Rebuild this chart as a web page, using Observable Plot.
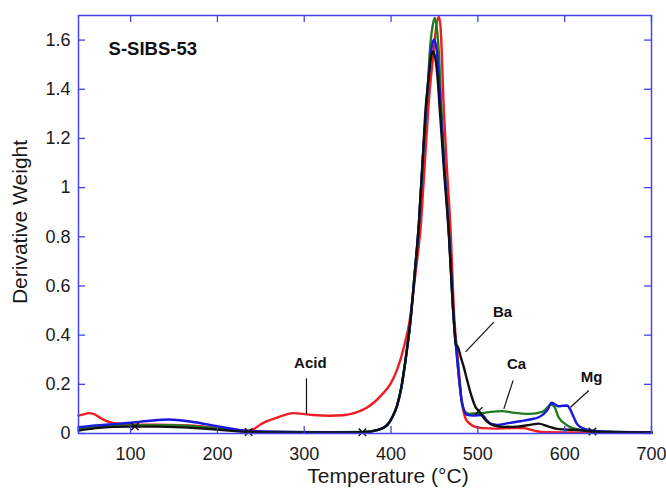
<!DOCTYPE html>
<html><head><meta charset="utf-8">
<script src="https://cdn.jsdelivr.net/npm/d3@7"></script>
<script src="https://cdn.jsdelivr.net/npm/@observablehq/plot@0.6"></script>
<style>body{margin:0;background:#fff;}</style>
</head><body><div id="chart"></div>
<script>
// ---- data (temperature °C, derivative weight) ----
const acid = [[40,0.073],[46,0.078],[52,0.083],[58,0.079],[66,0.062],[76,0.046],[90,0.039],[110,0.036],[146,0.035],[180,0.030],[205,0.020],[222,0.011],[232,0.009],[242,0.018],[250,0.038],[265,0.060],[278,0.076],[288,0.083],[298,0.080],[310,0.075],[330,0.072],[345,0.074],[361,0.087],[372,0.105],[380,0.125],[390,0.16],[399,0.2],[407,0.26],[414.7,0.35],[421.5,0.46],[426.5,0.6],[430.5,0.72],[434,0.833],[438,1.05],[442.8,1.315],[446,1.45],[448.5,1.53],[452,1.654],[455,1.695],[457,1.654],[460.8,1.315],[464,1.1],[468.5,0.833],[473,0.46],[476.5,0.32],[479,0.22],[481,0.14],[483.5,0.09],[486,0.06],[490,0.042],[496,0.028],[505,0.022],[520,0.02],[540,0.022],[553,0.022],[560,0.016],[568,0.009],[580,0.005],[620,0.003],[700,0.003]];
const ca = [[40,0.019],[60,0.028],[80,0.031],[100,0.033],[146,0.034],[180,0.027],[200,0.02],[236,0.01],[280,0.006],[330,0.005],[367,0.006],[385,0.015],[395,0.033],[402,0.07],[407,0.114],[412,0.19],[416.6,0.297],[422.4,0.46],[427.5,0.66],[432,0.85],[436,1.09],[440.8,1.315],[445.4,1.587],[448,1.66],[450.5,1.69],[453,1.64],[455,1.55],[458,1.315],[462,1.06],[466.5,0.833],[472.3,0.46],[476,0.31],[479,0.2],[481.5,0.13],[484,0.095],[486.5,0.085],[490,0.08],[497,0.082],[505,0.083],[515,0.088],[528,0.091],[540,0.085],[560,0.08],[574,0.088],[580,0.105],[584,0.118],[588,0.11],[593,0.066],[603,0.033],[618,0.015],[640,0.008],[700,0.004]];
const mg = [[40,0.026],[60,0.033],[80,0.038],[100,0.044],[120,0.051],[144,0.057],[170,0.048],[200,0.03],[230,0.012],[260,0.007],[300,0.005],[367,0.005],[385,0.015],[395,0.033],[402,0.07],[407,0.114],[412,0.19],[416.6,0.297],[422.4,0.46],[427.5,0.66],[432,0.85],[436,1.09],[440.5,1.33],[444,1.48],[447,1.575],[449.7,1.603],[452.5,1.56],[455,1.45],[457,1.33],[461,1.1],[466,0.85],[472.3,0.46],[476,0.31],[479,0.2],[481.5,0.13],[484,0.095],[487,0.077],[495,0.073],[505,0.075],[510,0.055],[514.5,0.04],[522,0.035],[535,0.042],[549,0.05],[560,0.057],[570,0.066],[576,0.08],[580,0.095],[584.8,0.125],[589,0.118],[593,0.111],[598,0.113],[603,0.114],[606,0.1],[610.5,0.066],[614,0.04],[618,0.026],[630,0.012],[650,0.007],[700,0.005]];
const ba = [[40,0.012],[60,0.022],[80,0.027],[105,0.028],[130,0.028],[160,0.025],[200,0.016],[236,0.006],[280,0.004],[330,0.004],[367,0.005],[385,0.015],[395.5,0.033],[402,0.07],[407,0.114],[412,0.19],[416.6,0.297],[422.4,0.46],[427.5,0.66],[432,0.85],[436,1.08],[439.7,1.315],[443.5,1.451],[446,1.53],[448.2,1.555],[450,1.54],[451.4,1.519],[453.5,1.45],[456.2,1.315],[461,1.07],[466,0.84],[472.3,0.46],[474.5,0.365],[477,0.352],[480,0.315],[483.8,0.27],[487.7,0.216],[492,0.16],[497,0.11],[501,0.092],[510,0.05],[518,0.033],[530,0.027],[545,0.028],[560,0.035],[570,0.04],[580,0.03],[591,0.019],[618,0.013],[632,0.008],[660,0.005],[700,0.004]];
const baMarkerT = [105, 236, 367, 501, 632];
const baMarkerV = [0.028, 0.006, 0.005, 0.092, 0.008];

const xTicks = [100, 200, 300, 400, 500, 600, 700];
const yTicks = [0, 0.2, 0.4, 0.6, 0.8, 1, 1.2, 1.4, 1.6];

const annoText = ["Acid", "Ba", "Ca", "Mg"];
const annoX = [307, 528.4, 544.5, 630.9];
const annoY = [0.286, 0.494, 0.281, 0.229];
const leadX1 = [302.6, 518.4, 540.6, 627.8];
const leadY1 = [0.224, 0.453, 0.216, 0.175];
const leadX2 = [302.6, 485.8, 529.9, 606.7];
const leadY2 = [0.081, 0.332, 0.1, 0.107];

// ---- layout ----
const W = 666, H = 489, ML = 78, MR = 15, MT = 15, MB = 56;
const plotW = W - ML - MR, plotH = H - MT - MB;
const frameColor = "#4444ea";
const tickLen = 7;

const series = [
  {pts: acid, color: "#ee1c24"},
  {pts: ca, color: "#1e7b1e"},
  {pts: mg, color: "#1818e0"},
  {pts: ba, color: "#111111"}
];
const toRows = pts => pts.map(([t, v]) => ({t, v}));

const chart = Plot.plot({
  width: W, height: H,
  marginLeft: ML, marginRight: MR, marginTop: MT, marginBottom: MB,
  x: {domain: [40, 700]},
  y: {domain: [0, 1.7]},
  style: {fontFamily: "'Liberation Sans', Arial, sans-serif", color: "#1a1a1a", background: "#fff"},
  marks: [
    Plot.axisX({ticks: xTicks, tickSize: 0, tickPadding: 14, fontSize: 18, label: null}),
    Plot.axisY({ticks: yTicks, tickSize: 0, tickPadding: 8, fontSize: 18, label: null, tickFormat: d => String(+d.toFixed(1))}),
    ...series.map(s => Plot.line(toRows(s.pts), {x: "t", y: "v", stroke: s.color, strokeWidth: 2.4, curve: "monotone-x"})),
    Plot.dot(baMarkerT, {x: baMarkerT, y: baMarkerV, symbol: "times", r: 3.5, stroke: "#111", strokeWidth: 1.4}),
    Plot.link(annoText, {x1: leadX1, y1: leadY1, x2: leadX2, y2: leadY2, stroke: "#111", strokeWidth: 1.2}),
    Plot.text(annoText, {x: annoX, y: annoY, text: d => d, fontSize: 15, fontWeight: "bold", fill: "#111"}),
    Plot.text(["S-SIBS-53"], {x: [74.6], y: [1.563], text: d => d, textAnchor: "start", fontSize: 18.5, fontWeight: "bold", fill: "#111"}),
    Plot.tickX(xTicks, {x: d => d, stroke: frameColor, strokeWidth: 1.3, insetTop: plotH - tickLen}),
    Plot.tickX(xTicks, {x: d => d, stroke: frameColor, strokeWidth: 1.3, insetBottom: plotH - tickLen}),
    Plot.tickY(yTicks, {y: d => d, stroke: frameColor, strokeWidth: 1.3, insetRight: plotW - tickLen}),
    Plot.tickY(yTicks, {y: d => d, stroke: frameColor, strokeWidth: 1.3, insetLeft: plotW - tickLen}),
    Plot.frame({stroke: frameColor, strokeWidth: 1.5}),
    Plot.text(["Temperature (°C)"], {frameAnchor: "bottom", lineAnchor: "middle", textAnchor: "middle", dx: 23, dy: 43, fontSize: 21, fill: "#1a1a1a"}),
    Plot.text(["Derivative Weight"], {frameAnchor: "left", lineAnchor: "middle", textAnchor: "middle", rotate: -90, dx: -58, dy: -2.5, fontSize: 21, fill: "#1a1a1a"})
  ]
});
document.getElementById("chart").appendChild(chart);
</script>
</body></html>
